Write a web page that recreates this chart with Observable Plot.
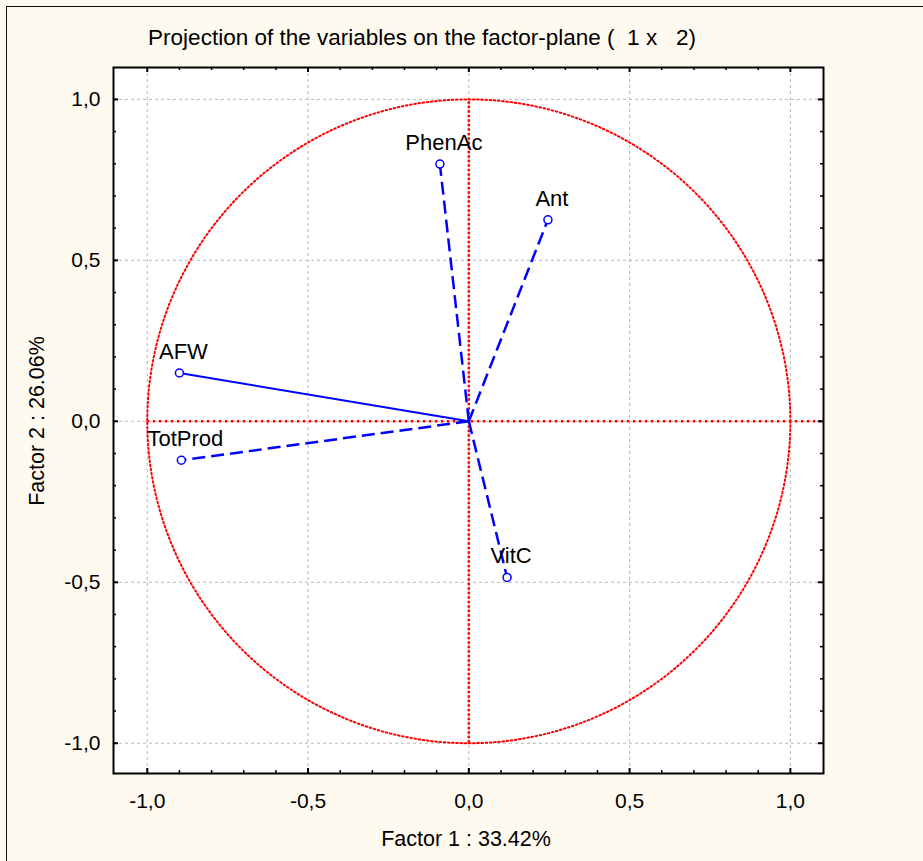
<!DOCTYPE html>
<html>
<head>
<meta charset="utf-8">
<script src="https://cdn.jsdelivr.net/npm/d3@7"></script>
<script src="https://cdn.jsdelivr.net/npm/@observablehq/plot@0.6"></script>
<style>
  html, body { margin: 0; padding: 0; background: #fffaf0; }
  #wrap { position: relative; width: 923px; height: 861px; overflow: hidden; font-family: "Liberation Sans", Arial, sans-serif; color: #000; }
  #border { position: absolute; left: 6px; top: 6px; width: 1000px; height: 1000px; border-left: 1.5px solid #111; border-top: 1.5px solid #111; }
  .lbl { position: absolute; white-space: pre; font-size: 21.5px; line-height: 1; }
  #title { left: 422px; top: 38px; transform: translate(-50%, -50%); font-size: 22.5px; }
  #xlab { left: 466px; top: 840px; transform: translate(-50%, -50%); }
  #ylab { left: 38px; top: 421px; transform: translate(-50%, -50%) rotate(-90deg); }
  #chart { position: absolute; left: 0; top: 0; }
</style>
</head>
<body>
<div id="wrap">
  <div id="border"></div>
  <div id="chart"></div>
  <div class="lbl" id="title">Projection of the variables on the factor-plane (  1 x   2)</div>
  <div class="lbl" id="xlab">Factor 1 : 33.42%</div>
  <div class="lbl" id="ylab">Factor 2 : 26.06%</div>
</div>
<script>
// Variables and their coordinates on the factor plane
const variables = ["PhenAc", "Ant", "AFW", "TotProd", "VitC"];
const factor1 = [-0.090, 0.246, -0.900, -0.894, 0.119];
const factor2 = [0.799, 0.626, 0.150, -0.121, -0.485];

// Axis ticks
const majorTicks = [-1.0, -0.5, 0.0, 0.5, 1.0];
const minorTicks = [-0.9, -0.8, -0.7, -0.6, -0.4, -0.3, -0.2, -0.1, 0.1, 0.2, 0.3, 0.4, 0.6, 0.7, 0.8, 0.9];

const xDomain = [-1.105, 1.103];
const yDomain = [-1.094, 1.099];

const data = variables.map((v, i) => ({name: v, f1: factor1[i], f2: factor2[i]}));
const solidVars = ["AFW"];

// Unit correlation circle (reference geometry)
const circle = d3.range(0, 361, 1).map(a => ({x: Math.cos(a * Math.PI / 180), y: Math.sin(a * Math.PI / 180)}));

const width = 923, height = 861;
const mL = 113, mR = 100, mT = 67, mB = 88;
const W = width - mL - mR, H = height - mT - mB;

const fmt = d => d.toFixed(1).replace(".", ",");
const red = "#ff0000";
const blue = "#0000ff";

const plot = Plot.plot({
  width, height,
  marginLeft: mL, marginRight: mR, marginTop: mT, marginBottom: mB,
  style: {background: "transparent", fontFamily: "'Liberation Sans', Arial, sans-serif", fontSize: "21px", color: "#000"},
  x: {domain: xDomain, label: null},
  y: {domain: yDomain, label: null},
  marks: [
    Plot.frame({fill: "white", stroke: null}),
    Plot.gridX(majorTicks, {stroke: "#b8b8b8", strokeOpacity: 1, strokeDasharray: "3,3", strokeWidth: 1}),
    Plot.gridY(majorTicks, {stroke: "#b8b8b8", strokeOpacity: 1, strokeDasharray: "3,3", strokeWidth: 1}),
    Plot.line(circle, {x: "x", y: "y", stroke: red, strokeWidth: 2, strokeDasharray: "1.6,2.6", curve: "linear"}),
    Plot.ruleX([0], {y1: -1, y2: 1, stroke: red, strokeWidth: 2.5, strokeDasharray: "2.5,2"}),
    Plot.ruleY([0], {x1: -1, x2: xDomain[1], stroke: red, strokeWidth: 2.5, strokeDasharray: "2.5,3.5"}),
    Plot.link(data.filter(d => !solidVars.includes(d.name)), {x1: 0, y1: 0, x2: "f1", y2: "f2", stroke: blue, strokeWidth: 2.5, strokeDasharray: "13,6"}),
    Plot.link(data.filter(d => solidVars.includes(d.name)), {x1: 0, y1: 0, x2: "f1", y2: "f2", stroke: blue, strokeWidth: 2}),
    Plot.dot(data, {x: "f1", y: "f2", r: 4, stroke: blue, strokeWidth: 1.5, fill: "white"}),
    Plot.text(data, {x: "f1", y: "f2", text: "name", dy: -21, dx: 4, fontSize: 22, fill: "#000"}),
    // inward ticks: bottom, top, left, right
    Plot.tickX(majorTicks, {x: d => d, insetTop: H - 5, stroke: "#000", strokeWidth: 2}),
    Plot.tickX(minorTicks, {x: d => d, insetTop: H - 3, stroke: "#000", strokeWidth: 1.5}),
    Plot.tickX(majorTicks, {x: d => d, insetBottom: H - 5, stroke: "#000", strokeWidth: 2}),
    Plot.tickX(minorTicks, {x: d => d, insetBottom: H - 3, stroke: "#000", strokeWidth: 1.5}),
    Plot.tickY(majorTicks, {y: d => d, insetRight: W - 5, stroke: "#000", strokeWidth: 2}),
    Plot.tickY(minorTicks, {y: d => d, insetRight: W - 3, stroke: "#000", strokeWidth: 1.5}),
    Plot.tickY(majorTicks, {y: d => d, insetLeft: W - 5, stroke: "#000", strokeWidth: 2}),
    Plot.tickY(minorTicks, {y: d => d, insetLeft: W - 3, stroke: "#000", strokeWidth: 1.5}),
    Plot.axisX(majorTicks, {anchor: "bottom", tickSize: 0, tickPadding: 20, tickFormat: fmt, fontSize: 21, label: null}),
    Plot.axisY(majorTicks, {anchor: "left", tickSize: 0, tickPadding: 13, tickFormat: fmt, fontSize: 21, label: null}),
    Plot.frame({stroke: "#000", strokeWidth: 2})
  ]
});
document.getElementById("chart").appendChild(plot);
</script>
</body>
</html>
